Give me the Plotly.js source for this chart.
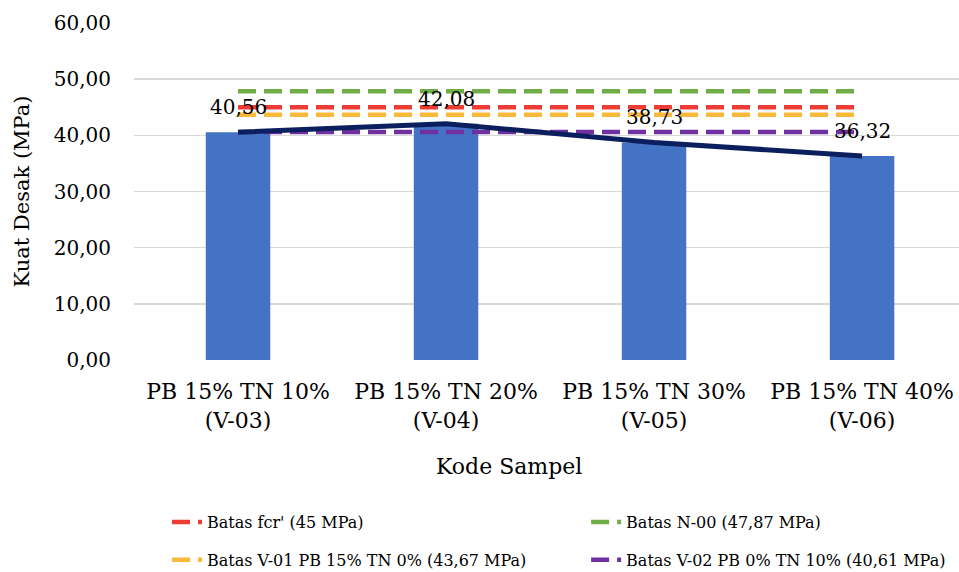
<!DOCTYPE html>
<html>
<head>
<meta charset="utf-8">
<script src="https://cdn.plot.ly/plotly-3.0.1.min.js"></script>
<style>html,body{margin:0;padding:0;background:#fff}#chart{width:959px;height:572px}</style>
</head>
<body>
<div id="chart"></div>
<script>
// ---- data ----
var categories = [
  "PB 15% TN 10%<br>(V-03)",
  "PB 15% TN 20%<br>(V-04)",
  "PB 15% TN 30%<br>(V-05)",
  "PB 15% TN 40%<br>(V-06)"
];
var kuatDesak = [40.56, 42.08, 38.73, 36.32];
var dataLabels = ["40,56", "42,08", "38,73", "36,32"];

var limitNames = [
  "Batas fcr' (45 MPa)",
  "Batas N-00 (47,87 MPa)",
  "Batas V-01 PB 15% TN 0% (43,67 MPa)",
  "Batas V-02 PB 0% TN 10% (40,61 MPa)"
];
var limitValues = [45, 47.87, 43.67, 40.61];
var limitColors = ["#EE3B34", "#70AD47", "#F9BA3B", "#7030A0"];
var limitLegend = ["legend", "legend2", "legend", "legend2"];

var yTickVals = [0, 10, 20, 30, 40, 50, 60];

// ---- traces ----
var FONT = "DejaVu Serif";
var traces = [];
traces.push({
  type: "bar",
  x: categories,
  y: kuatDesak,
  width: 0.31,
  marker: {color: "#4472C4"},
  showlegend: false,
  hoverinfo: "x+y"
});
for (var i = 0; i < limitNames.length; i++) {
  traces.push({
    type: "scatter",
    mode: "lines",
    name: limitNames[i],
    legend: limitLegend[i],
    legendgroup: "g" + i,
    x: categories,
    y: categories.map(function () { return limitValues[i]; }),
    line: {color: limitColors[i], width: 4.5, dash: "18px,8px"}
  });
}
traces.push({
  type: "scatter",
  mode: "lines",
  x: categories,
  y: kuatDesak,
  line: {color: "#0B1F5E", width: 5},
  showlegend: false
});

var annotations = categories.map(function (c, k) {
  return {
    x: c, y: kuatDesak[k], xref: "x", yref: "y",
    text: dataLabels[k], showarrow: false, yshift: 25,
    font: {family: FONT, size: 20, color: "#000"}
  };
});
annotations.push({
  xref: "paper", yref: "paper", x: 0.455, y: -0.3175,
  xanchor: "center", yanchor: "middle",
  text: "Kode Sampel", showarrow: false,
  font: {family: FONT, size: 22, color: "#000"}
});

var legendCommon = {
  orientation: "v",
  yref: "container",
  y: 0.117, yanchor: "top",
  traceorder: "grouped",
  tracegroupgap: 14,
  font: {family: FONT, size: 16, color: "#000"},
  bgcolor: "rgba(0,0,0,0)"
};

var layout = {
  width: 959, height: 572,
  margin: {l: 134, r: 0, t: 23, b: 212},
  paper_bgcolor: "#fff", plot_bgcolor: "#fff",
  separators: ",.",
  font: {family: FONT, color: "#000", size: 20},
  xaxis: {
    type: "category",
    range: [-0.5, 3.466],
    showgrid: false, zeroline: false, showline: false,
    ticks: "", ticklabelstandoff: 16,
    tickfont: {family: FONT, size: 22, color: "#000"}
  },
  yaxis: {
    range: [0, 60],
    tickvals: yTickVals,
    tickformat: ".2f",
    showgrid: true, gridcolor: "#D9D9D9", gridwidth: 1.5,
    zeroline: false, showline: false,
    ticks: "", ticklabelstandoff: 22,
    tickfont: {family: FONT, size: 20, color: "#000"},
    title: {text: "Kuat Desak (MPa)", standoff: 18,
            font: {family: FONT, size: 21, color: "#000"}}
  },
  showlegend: true,
  legend: Object.assign({}, legendCommon, {x: 0.04, xanchor: "left"}),
  legend2: Object.assign({}, legendCommon, {x: 0.548, xanchor: "left"}),
  annotations: annotations
};

Plotly.newPlot("chart", traces, layout, {displayModeBar: false, staticPlot: true});
</script>
</body>
</html>
